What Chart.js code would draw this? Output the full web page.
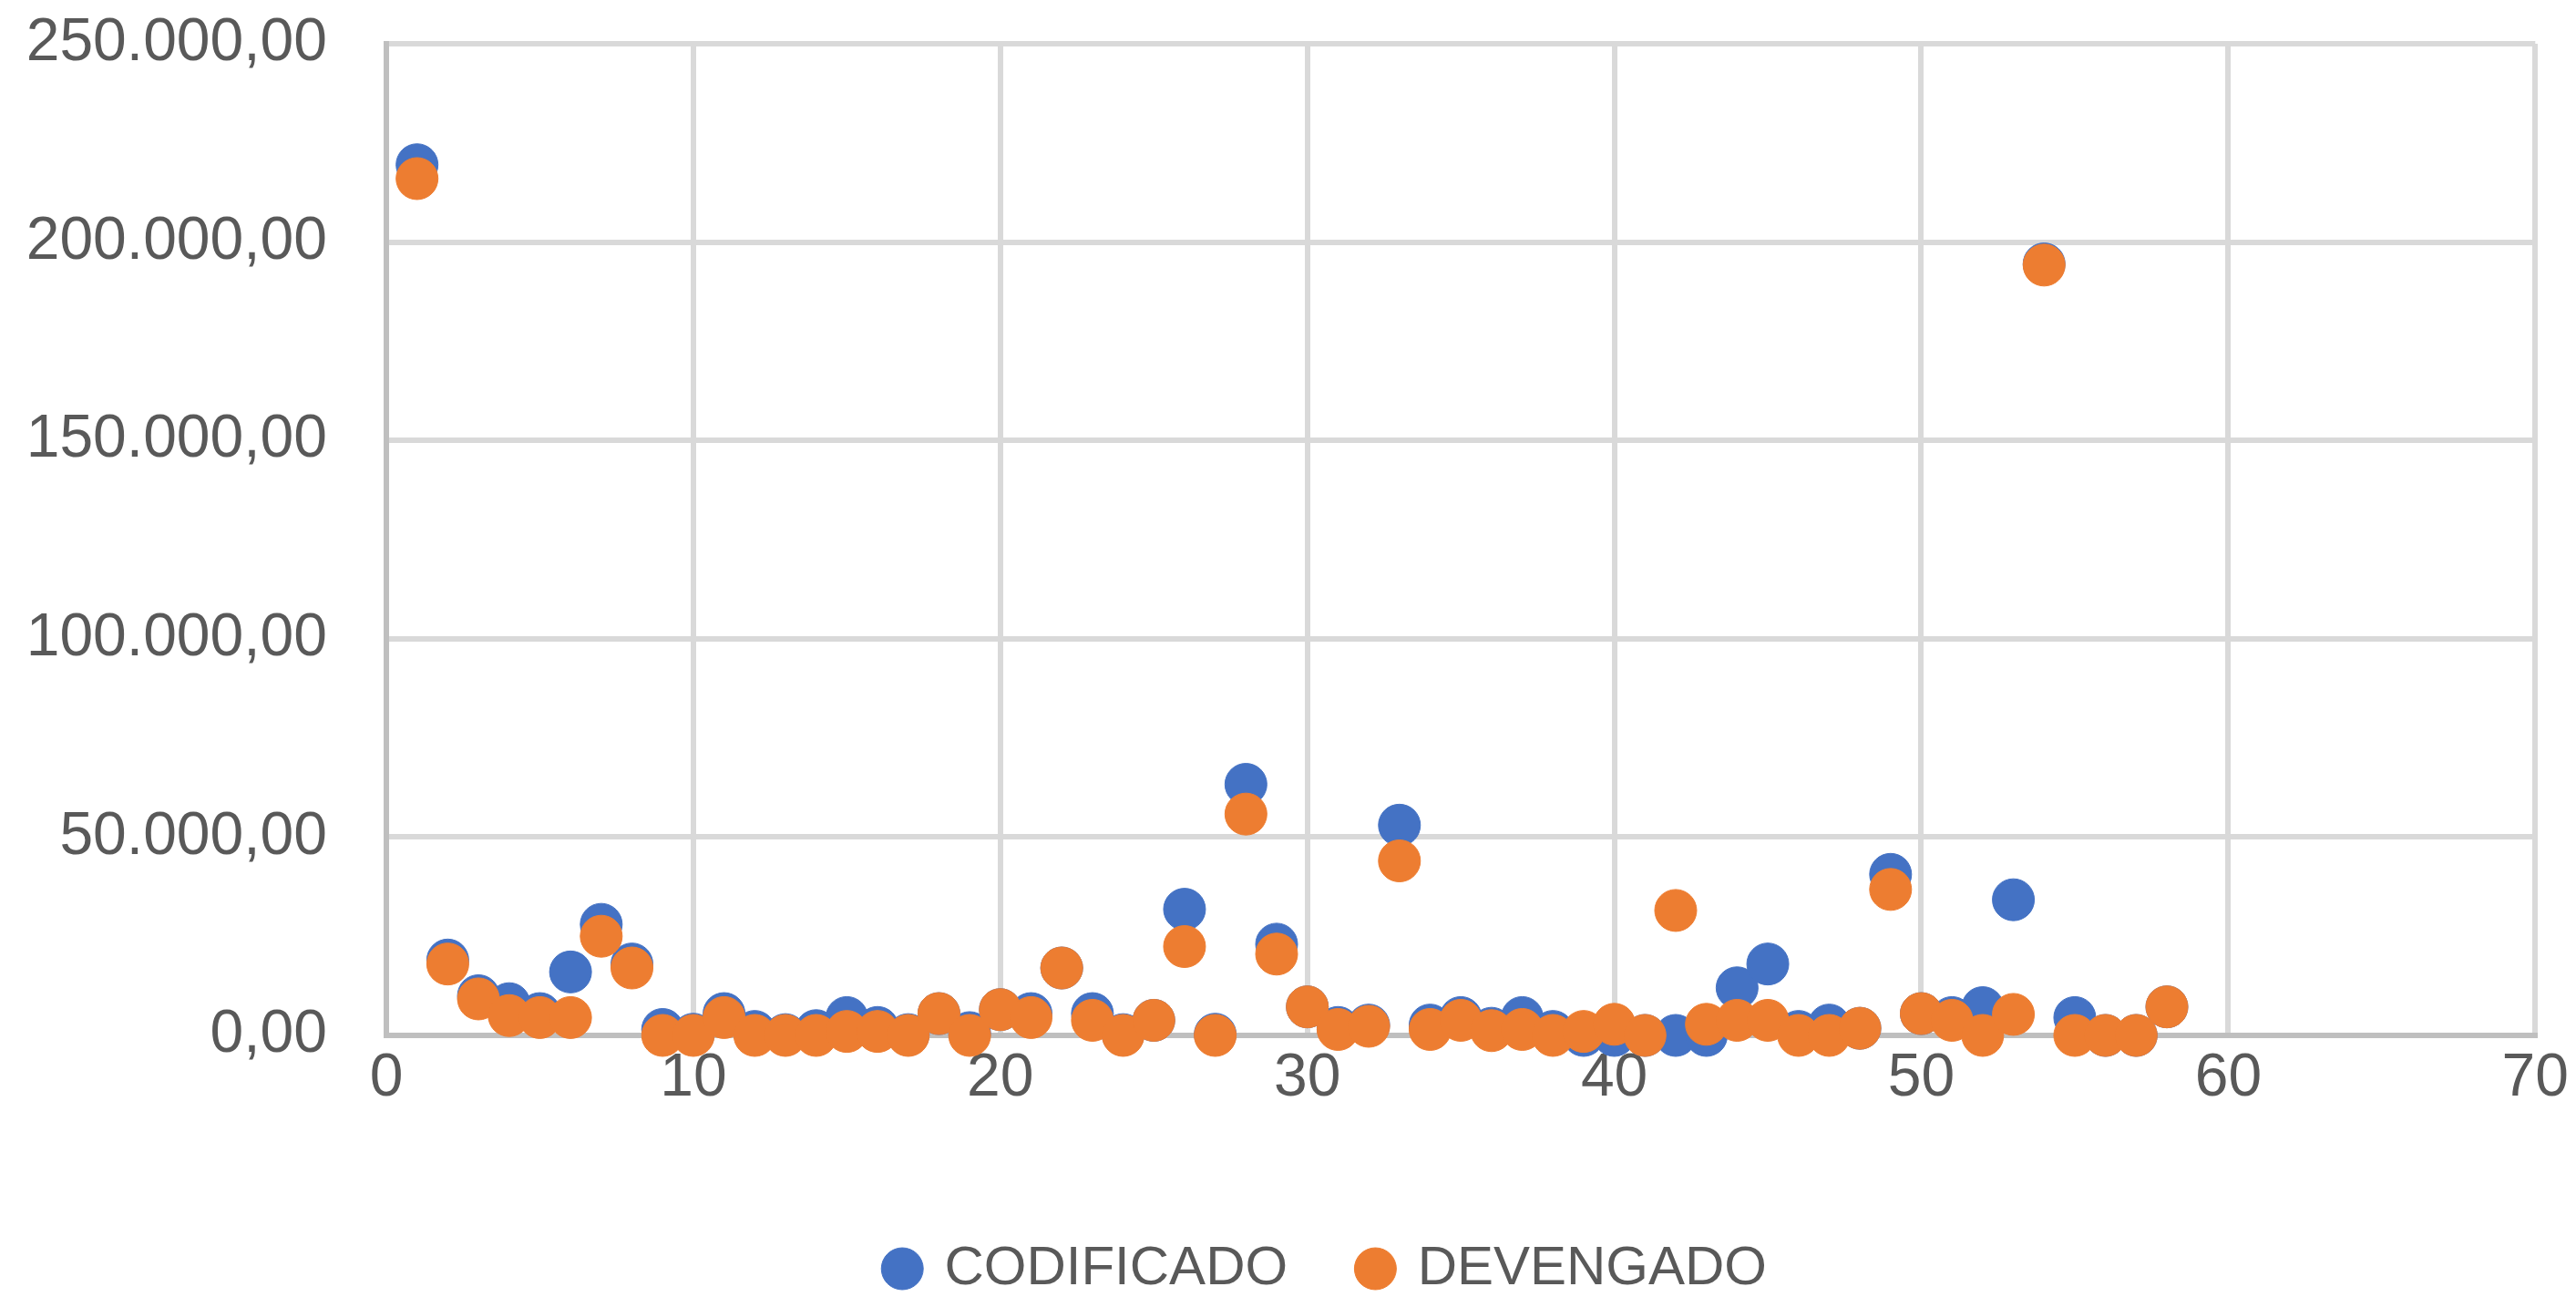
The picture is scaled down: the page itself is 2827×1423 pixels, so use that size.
<!DOCTYPE html>
<html>
<head>
<meta charset="utf-8">
<script src="https://cdn.jsdelivr.net/npm/chart.js@4.4.0/dist/chart.umd.min.js"></script>
<style>
  html, body { margin: 0; padding: 0; background: #ffffff; }
  #wrap { width: 2827px; height: 1423px; }
</style>
</head>
<body>
<div id="wrap"><canvas id="c" width="2827" height="1423"></canvas></div>
<script>
const xValues = [1,2,3,4,5,6,7,8,9,10,11,12,13,14,15,16,17,18,19,20,21,22,23,24,25,26,27,28,29,30,31,32,33,34,35,36,37,38,39,40,41,42,43,44,45,46,47,48,49,50,51,52,53,54,55,56,57,58];
const codificado = [219500,19000,10000,8000,5500,16000,28000,18000,1500,300,5500,1000,200,1200,4500,2000,200,5500,700,6500,5500,17000,5500,200,3800,31800,300,63300,23000,7200,2000,2600,53000,2600,4500,1800,4500,1000,0,0,0,0,0,12000,18000,1000,2600,1800,40600,5500,4500,7000,34200,194500,4500,0,0,7200];
const devengado = [216000,18000,9200,5000,4500,4500,25000,17000,0,0,4500,0,0,0,1000,1000,0,5500,0,6500,4500,17000,3800,0,3800,22400,0,55800,20500,7200,1500,2300,44000,1500,3800,1200,1500,0,1000,2800,0,31500,2800,3800,3800,0,0,1800,36800,5500,3800,0,5300,194200,0,0,0,7200];
const seriesNames = ["CODIFICADO", "DEVENGADO"];
const yTickLabels = ["0,00","50.000,00","100.000,00","150.000,00","200.000,00","250.000,00"];
const xTickLabels = ["0","10","20","30","40","50","60","70"];

const BLUE = "#4472C4", ORANGE = "#ED7D31", TXT = "#595959";
const FONT = "'Liberation Sans', Arial, sans-serif";

const legendShift = {
  id: "legendShift",
  afterLayout(chart) {
    if (chart.legend) { chart.legend.left += 65; chart.legend.right += 65; }
  }
};

new Chart(document.getElementById("c"), {
  type: "scatter",
  data: {
    datasets: [
      {
        label: seriesNames[0],
        data: xValues.map((x, i) => ({ x: x, y: codificado[i] })),
        backgroundColor: BLUE, borderColor: BLUE,
        pointRadius: 23, pointBorderWidth: 1, pointStyle: "circle",
        order: 1, clip: false
      },
      {
        label: seriesNames[1],
        data: xValues.map((x, i) => ({ x: x, y: devengado[i] })),
        backgroundColor: ORANGE, borderColor: ORANGE,
        pointRadius: 23, pointBorderWidth: 1, pointStyle: "circle",
        order: 0, clip: false
      }
    ]
  },
  plugins: [legendShift],
  options: {
    responsive: false,
    devicePixelRatio: 1,
    animation: false,
    layout: { padding: { left: 0, right: 44, top: 48, bottom: -9 } },
    plugins: {
      tooltip: { enabled: false },
      legend: {
        position: "bottom",
        labels: {
          usePointStyle: true,
          pointStyle: "circle",
          boxWidth: 32.5,
          boxHeight: 32.5,
          padding: 80,
          color: TXT,
          font: { family: FONT, size: 60 },
          sort: (a, b) => a.datasetIndex - b.datasetIndex
        }
      }
    },
    scales: {
      x: {
        type: "linear",
        min: 0, max: 70,
        afterFit: (s) => { s.height = 146; },
        ticks: {
          stepSize: 10, padding: 8, color: TXT,
          font: { family: FONT, size: 66 },
          maxRotation: 0,
          callback: (v, i) => xTickLabels[i]
        },
        grid: { color: "#D9D9D9", lineWidth: 6, drawTicks: false },
        border: { color: "#BFBFBF", width: 6 }
      },
      y: {
        type: "linear",
        min: 0, max: 250000,
        afterFit: (s) => { s.width = 424; s.paddingTop = 40; s.paddingBottom = 40; },
        ticks: {
          stepSize: 50000, padding: 65, color: TXT,
          font: { family: FONT, size: 66 },
          callback: (v, i) => yTickLabels[i]
        },
        grid: { color: "#D9D9D9", lineWidth: 6, drawTicks: false },
        border: { color: "#BFBFBF", width: 6 }
      }
    }
  }
});
</script>
</body>
</html>
